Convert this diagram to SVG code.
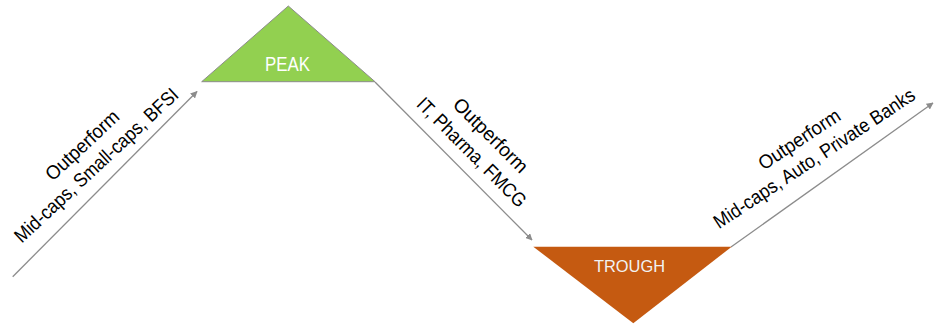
<svg xmlns="http://www.w3.org/2000/svg" width="946" height="327" viewBox="0 0 946 327">
<style>
.lbl{font-family:"Liberation Sans",Arial,sans-serif;font-size:19.5px;fill:#000;text-anchor:middle}
.conn{stroke:#8c8c8c;stroke-width:1.3;fill:none;marker-end:url(#ah)}
.node-text{font-family:"Liberation Sans",Arial,sans-serif;text-anchor:middle}
</style>
<defs>
<marker id="ah" viewBox="0 0 10 10" refX="9" refY="5" markerWidth="7" markerHeight="7" markerUnits="userSpaceOnUse" orient="auto">
<path d="M0,0 L10,5 L0,10 z" fill="#8c8c8c"/>
</marker>
</defs>
<rect width="946" height="327" fill="#fff"/>
<g id="connectors">
<line class="conn" x1="12.7" y1="276.7" x2="197" y2="91.5"/>
<line class="conn" x1="375" y1="82" x2="532" y2="240"/>
<line class="conn" x1="731" y1="247" x2="933" y2="103"/>
</g>
<g id="peak">
<polygon points="288.3,6 201.7,81.7 375,81.7" fill="#92D050" stroke="#8c8c8c" stroke-width="1"/>
<text class="node-text" x="287.5" y="71" font-size="19.5" fill="#fff" textLength="45" lengthAdjust="spacingAndGlyphs">PEAK</text>
</g>
<g id="trough">
<polygon points="533.3,246.7 731.7,246.7 633.3,323.3" fill="#C55A11"/>
<text class="node-text" x="629.5" y="271.5" font-size="17" fill="#F2F2F2" textLength="71" lengthAdjust="spacingAndGlyphs">TROUGH</text>
</g>
<g id="labels">
<g transform="translate(82,145) rotate(-43)">
<text class="lbl" x="0" y="7" textLength="93" lengthAdjust="spacingAndGlyphs">Outperform</text>
</g>
<g transform="translate(96,165) rotate(-43)">
<text class="lbl" x="0" y="7" textLength="216" lengthAdjust="spacingAndGlyphs">Mid-caps, Small-caps, BFSI</text>
</g>
<g transform="translate(491,135) rotate(45)">
<text class="lbl" x="0" y="7" textLength="97" lengthAdjust="spacingAndGlyphs">Outperform</text>
</g>
<g transform="translate(472,152) rotate(45)">
<text class="lbl" x="0" y="7" textLength="146" lengthAdjust="spacingAndGlyphs">IT, Pharma, FMCG</text>
</g>
<g transform="translate(799,139) rotate(-33.5)">
<text class="lbl" x="0" y="7" textLength="94" lengthAdjust="spacingAndGlyphs">Outperform</text>
</g>
<g transform="translate(814,158) rotate(-33.5)">
<text class="lbl" x="0" y="7" textLength="237" lengthAdjust="spacingAndGlyphs">Mid-caps, Auto, Private Banks</text>
</g>
</g>
</svg>
